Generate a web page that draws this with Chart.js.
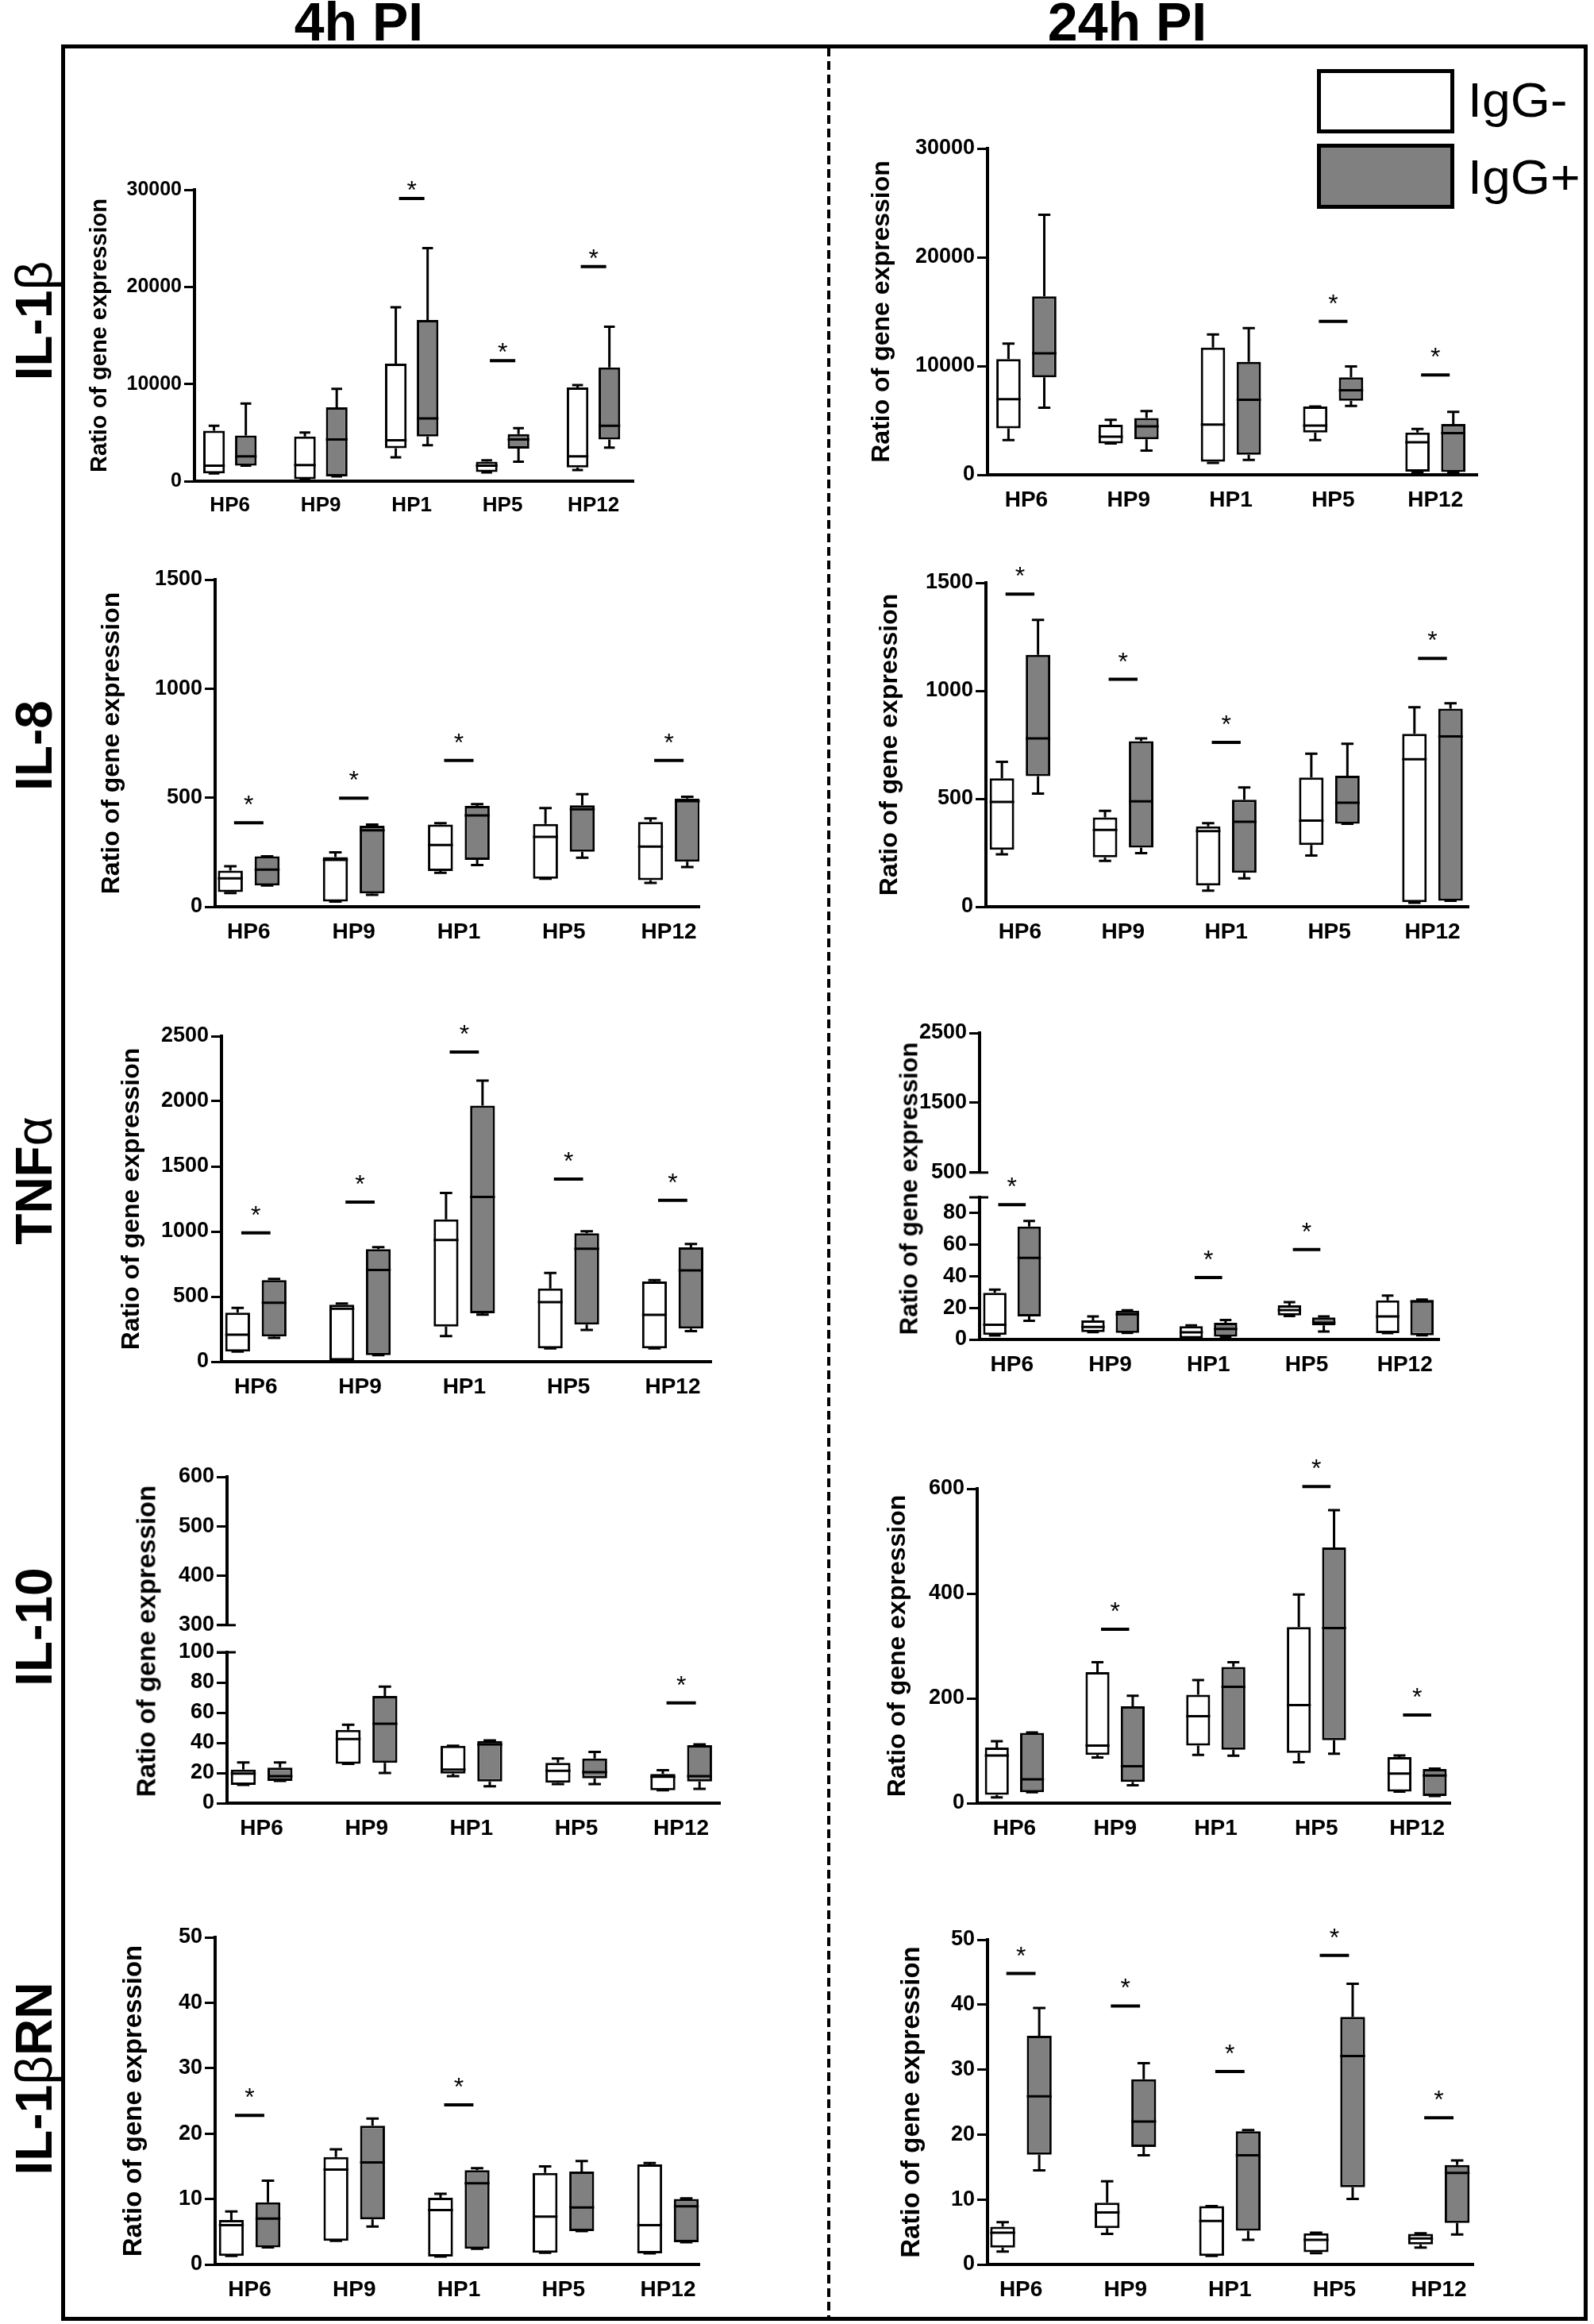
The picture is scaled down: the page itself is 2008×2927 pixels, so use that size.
<!DOCTYPE html>
<html>
<head>
<meta charset="utf-8">
<script src="https://cdn.jsdelivr.net/npm/chart.js@4.4.1/dist/chart.umd.min.js"></script>
<style>
  body { margin: 0; width: 2008px; height: 2927px; background: #fff; position: relative; overflow: hidden;
         font-family: "Liberation Sans", Arial, sans-serif; color: #000; }
  canvas { position: absolute; }
  .frame { position: absolute; left: 77px; top: 56px; width: 1923px; height: 2867px; border: 5px solid #000; box-sizing: border-box; }
  .divider { position: absolute; left: 1042px; top: 60px; width: 4px; height: 2860px;
             background: repeating-linear-gradient(to bottom, #000 0 11px, transparent 11px 17px); }
  .col { position: absolute; top: -7px; font-weight: bold; font-size: 68px; line-height: 1; transform: translateX(-50%); white-space: nowrap; }
  .row { position: absolute; font-weight: bold; font-size: 64px; line-height: 1; white-space: nowrap;
         transform: translate(-50%, -50%) rotate(-90deg); }
  .row span { font-weight: normal; }
  .ytitle { position: absolute; font-weight: bold; line-height: 1; white-space: nowrap;
            transform: translate(-50%, -50%) rotate(-90deg); }
  .legbox { position: absolute; left: 1659px; width: 173px; border: 5px solid #000; box-sizing: border-box; }
  .legtxt { position: absolute; left: 1849px; font-size: 62px; line-height: 1; transform: scaleX(1.04); transform-origin: left center; }
</style>
</head>
<body>
<div class="frame"></div>
<div class="divider"></div>
<div class="col" style="left:452px">4h PI</div>
<div class="col" style="left:1420px">24h PI</div>
<div class="row" style="left:43px;top:404px">IL-1<span>β</span></div>
<div class="row" style="left:43px;top:939px">IL-8</div>
<div class="row" style="left:43px;top:1487px">TNF<span>α</span></div>
<div class="row" style="left:43px;top:2049px">IL-10</div>
<div class="row" style="left:43px;top:2618px">IL-1<span>β</span>RN</div>
<div class="legbox" style="top:87px;height:81px;background:#fff"></div>
<div class="legbox" style="top:181px;height:82px;background:#808080"></div>
<div class="legtxt" style="top:95px">IgG-</div>
<div class="legtxt" style="top:192px">IgG+</div>

<script>
// categories
const strains = ['HP6', 'HP9', 'HP1', 'HP5', 'HP12'];
const yTitle = 'Ratio of gene expression';

// each box: [min, q1, median, q3, max]
const il1b4hNeg = [[800, 800, 1600, 5200, 5700], [200, 200, 1650, 4600, 5000], [2450, 3400, 4200, 12100, 17900], [900, 950, 1600, 2000, 2150], [1150, 1400, 2550, 9650, 9900]];
const il1b4hPos = [[1600, 1600, 2550, 4700, 8000], [500, 500, 4300, 7600, 9500], [3700, 4600, 6450, 16600, 24000], [2000, 3350, 4300, 4850, 5450], [3450, 4300, 5700, 11700, 15900]];
const il1b4hSig = [null, null, 29100, 12400, 22100];
const il1b4hAxis = [0, 30000, 10000];

const il1b24hNeg = [[3200, 4270, 6960, 10630, 12060], [2880, 2880, 3510, 4590, 5060], [1100, 1200, 4620, 11700, 12900], [3200, 3890, 4530, 6270, 6270], [250, 300, 3000, 3890, 4210]];
const il1b24hPos = [[6170, 8960, 11170, 16400, 23900], [2220, 3260, 4460, 5220, 5850], [1360, 1840, 6900, 10380, 13480], [6330, 6800, 7780, 8960, 9970], [250, 250, 3830, 4680, 5790]];
const il1b24hSig = [null, null, null, 14110, 9180];
const il1b24hAxis = [0, 30000, 10000];

const il8_4hNeg = [[63, 67, 130, 166, 186], [24, 24, 215, 228, 249], [156, 164, 283, 377, 383], [128, 128, 320, 380, 452], [109, 122, 276, 389, 405]];
const il8_4hPos = [[97, 97, 170, 231, 231], [55, 61, 350, 371, 377], [191, 215, 419, 462, 471], [225, 252, 447, 465, 516], [182, 207, 484, 496, 504]];
const il8_4hSig = [385, 498, 671, null, 671];
const il8_4hAxis = [0, 1500, 500];

const il8_24hNeg = [[243, 264, 485, 595, 671], [212, 229, 356, 414, 444], [74, 98, 350, 372, 387], [237, 286, 399, 598, 709], [18, 21, 683, 801, 924]];
const il8_24hPos = [[524, 605, 779, 1166, 1328], [248, 274, 488, 767, 779], [131, 157, 393, 495, 552], [384, 384, 482, 607, 755], [28, 28, 789, 917, 942]];
const il8_24hSig = [1448, 1053, 761, null, 1150];
const il8_24hAxis = [0, 1500, 500];

const tnf4hNeg = [[77, 77, 207, 376, 413], [10, 10, 407, 437, 447], [197, 270, 935, 1093, 1295], [102, 102, 457, 563, 681], [102, 102, 360, 616, 626]];
const tnf4hPos = [[183, 193, 453, 626, 636], [51, 51, 705, 864, 880], [362, 372, 1266, 1967, 2159], [244, 285, 868, 986, 1002], [234, 254, 701, 878, 904]];
const tnf4hSig = [990, 1226, 2378, 1402, 1240];
const tnf4hAxis = [0, 2500, 500];

const tnf24hNeg = [[2.5, 2.9, 9.3, 29.5, 31.6], [4.7, 4.7, 7.9, 12.1, 14.6], [0.8, 0.8, 4.5, 8.4, 8.9], [14.8, 15.2, 18.6, 21.6, 23.6], [4, 4, 14.6, 24.8, 27.8]];
const tnf24hPos = [[11.8, 14.6, 51.7, 71.5, 75], [4.2, 4.2, 16, 18.2, 18.5], [1.7, 1.7, 6.7, 10.6, 12.3], [5, 8.9, 10.6, 14, 14.6], [2.7, 2.7, 24, 25, 25.3]];
const tnf24hSig = [85.4, null, 39.2, 56.9, null];
const tnf24hAxisLow = [0, 90, 20];
const tnf24hAxisHigh = [500, 2500, 1000];

const il10_4hNeg = [[12.1, 12.1, 19.6, 22.3, 27], [26.1, 26.1, 42.5, 48.6, 52], [17.9, 19.6, 22.3, 38, 38], [12.6, 13.5, 21.4, 26.7, 29.6], [8.6, 8.6, 17.5, 19.3, 21.8]];
const il10_4hPos = [[14.7, 14.7, 17.9, 23.5, 27], [20, 26.7, 52.6, 71, 77.2], [11.2, 14.4, 39, 41.2, 41.6], [12.6, 16.5, 20.5, 29.6, 34], [9.5, 14.4, 17.9, 38.4, 39]];
const il10_4hSig = [null, null, null, null, 66.5];
const il10_4hAxisLow = [0, 100, 20];
const il10_4hAxisHigh = [300, 600, 100];

const il10_24hNeg = [[11, 16, 91, 106, 118], [87, 92, 110, 250, 269], [92, 110, 166, 207, 235], [78, 96, 187, 336, 398], [22, 22, 56.6, 88, 91]];
const il10_24hPos = [[21, 21, 45.5, 134, 135], [34, 40.4, 70.3, 185, 205], [90.5, 102, 222, 260, 269], [94.5, 120, 334, 488, 559], [13.6, 13.6, 52.6, 65, 66]];
const il10_24hSig = [null, 332, null, 604, 168];
const il10_24hAxis = [0, 600, 200];

const il1rn4hNeg = [[1.3, 1.3, 6.0, 6.8, 8.1], [3.6, 3.6, 14.5, 16.4, 17.6], [1.2, 1.2, 8.3, 10.2, 10.8], [1.8, 1.8, 7.3, 14, 15], [1.7, 1.7, 6.0, 15.3, 15.5]];
const il1rn4hPos = [[2.6, 2.6, 7.0, 9.5, 12.8], [5.8, 6.9, 15.6, 21.2, 22.3], [2.4, 2.4, 12.4, 14.4, 14.7], [5.1, 5.1, 8.7, 14.2, 15.8], [3.4, 3.4, 8.9, 10, 10.1]];
const il1rn4hSig = [22.8, null, 24.4, null, null];
const il1rn4hAxis = [0, 50, 10];

const il1rn24hNeg = [[2.0, 2.6, 4.9, 5.8, 6.5], [4.7, 5.6, 8.0, 9.5, 12.8], [1.3, 1.3, 6.7, 9.0, 9.0], [1.75, 1.9, 3.8, 4.8, 4.9], [2.6, 3.1, 4.0, 4.7, 4.8]];
const il1rn24hPos = [[14.5, 16.9, 25.9, 35.2, 39.5], [16.8, 18.1, 22, 28.5, 31], [3.8, 5.2, 16.8, 20.5, 20.7], [10.1, 11.9, 32.1, 38.1, 43.2], [4.6, 6.4, 14.1, 15.3, 16]];
const il1rn24hSig = [44.8, 39.8, 29.7, 47.6, 22.6];
const il1rn24hAxis = [0, 50, 10];

Chart.defaults.font.family = '"Liberation Sans", Arial, sans-serif';
Chart.defaults.color = '#000';
Chart.defaults.animation = false;

// whiskers, medians, significance bars and axis-break caps
const boxExtras = {
    id: 'boxExtras',
    afterDatasetsDraw(chart, args, opts) {
        const ctx = chart.ctx;
        const y = chart.scales.y;
        const area = chart.chartArea;
        ctx.save();
        ctx.strokeStyle = '#000';
        ctx.fillStyle = '#000';
        ctx.lineWidth = 3;
        chart.data.datasets.forEach((ds, d) => {
            chart.getDatasetMeta(d).data.forEach((bar, i) => {
                const [mn, q1, md, q3, mx] = ds.stats[i].map(v => y.getPixelForValue(v));
                const hw = bar.width / 2, cw = bar.width / 4;
                ctx.beginPath();
                ctx.moveTo(bar.x, q3); ctx.lineTo(bar.x, mx);
                ctx.moveTo(bar.x, q1); ctx.lineTo(bar.x, mn);
                ctx.moveTo(bar.x - cw, mx); ctx.lineTo(bar.x + cw, mx);
                ctx.moveTo(bar.x - cw, mn); ctx.lineTo(bar.x + cw, mn);
                ctx.moveTo(bar.x - hw, md); ctx.lineTo(bar.x + hw, md);
                ctx.stroke();
            });
        });
        const sig = chart.data.datasets.length ? chart.data.datasets[0].sig : null;
        if (sig) {
            const a = chart.getDatasetMeta(0).data, b = chart.getDatasetMeta(1).data;
            ctx.lineWidth = 4;
            ctx.font = '32px "Liberation Sans"';
            ctx.textAlign = 'center';
            ctx.textBaseline = 'alphabetic';
            sig.forEach((v, i) => {
                if (v == null) return;
                const gap = b[i].x - a[i].x, mid = (a[i].x + b[i].x) / 2;
                const py = y.getPixelForValue(v);
                ctx.beginPath();
                ctx.moveTo(mid - 0.4 * gap, py); ctx.lineTo(mid + 0.4 * gap, py);
                ctx.stroke();
                ctx.fillText('*', mid, py - opts.starLift);
            });
        }
        if (opts.breakAt) {
            const py = opts.breakAt === 'top' ? area.top : area.bottom;
            ctx.lineWidth = 3;
            ctx.beginPath();
            ctx.moveTo(area.left - 13, py); ctx.lineTo(area.left + 11, py);
            ctx.stroke();
        }
        ctx.restore();
    }
};

function addCanvas(left, top, w, h) {
    const c = document.createElement('canvas');
    c.width = w; c.height = h;
    c.style.left = left + 'px'; c.style.top = top + 'px';
    c.style.width = w + 'px'; c.style.height = h + 'px';
    document.body.appendChild(c);
    return c;
}

function addTitle(x, y, size) {
    const t = document.createElement('div');
    t.className = 'ytitle';
    t.textContent = yTitle;
    t.style.left = x + 'px'; t.style.top = y + 'px'; t.style.fontSize = size + 'px';
    document.body.appendChild(t);
}

function yScale(axis, yw, tickSize, title, titleSize) {
    const [min, max, step] = axis;
    return {
        min: min, max: max,
        ticks: {
            stepSize: step, padding: 3, color: '#000', autoSkip: false, includeBounds: false,
            font: { size: tickSize, weight: 'bold' },
            callback: v => String(v)
        },
        grid: { display: true, drawOnChartArea: false, drawTicks: true, tickLength: 13, lineWidth: 3, color: '#000' },
        border: { display: true, width: 4, color: '#000' },
        title: { display: title, text: yTitle, color: '#000', padding: { top: 4, bottom: 4 },
                 font: { size: titleSize, weight: 'bold' } },
        afterFit: s => { s.width = yw; }
    };
}

function xScale(xr, catSize, show) {
    return {
        type: 'linear', min: xr[0], max: xr[1], offset: false, display: show,
        ticks: {
            stepSize: 1, includeBounds: false, autoSkip: false, maxRotation: 0, padding: 7, color: '#000',
            font: { size: catSize, weight: 'bold' },
            callback: v => (Number.isInteger(v) && strains[v]) ? strains[v] : ''
        },
        grid: { display: false },
        border: { display: true, width: 4, color: '#000' },
        afterFit: s => { s.height = show ? 60 : 0; }
    };
}

function boxDatasets(neg, pos, sig) {
    const common = { borderColor: '#000', borderWidth: 3, borderSkipped: false,
                     categoryPercentage: 0.7, barPercentage: 0.68 };
    return [
        Object.assign({ label: 'IgG-', data: neg.map((b, i) => ({ x: i, y: [b[1], b[3]] })),
                        stats: neg, sig: sig, backgroundColor: '#ffffff' }, common),
        Object.assign({ label: 'IgG+', data: pos.map((b, i) => ({ x: i, y: [b[1], b[3]] })),
                        stats: pos, backgroundColor: '#808080' }, common)
    ];
}

const PAD_TOP = 45, PAD_RIGHT = 20, X_H = 60;

// regular panels: ax/end = axis x extent, top/zero = y pixel of max and 0
function panel(p) {
    const titleLine = p.title * 1.2;
    const cl = Math.round(p.titleX - 4 - titleLine / 2);
    const top = Math.round(p.top), zero = Math.round(p.zero);
    const c = addCanvas(cl, top - PAD_TOP, Math.round(p.end) - cl + PAD_RIGHT, zero - top + PAD_TOP + X_H);
    new Chart(c, {
        type: 'bar',
        data: { datasets: boxDatasets(p.neg, p.pos, p.sig) },
        options: {
            responsive: false,
            layout: { padding: { top: PAD_TOP, right: PAD_RIGHT, bottom: 0, left: 0 } },
            scales: { x: xScale(p.xr, p.cat, true), y: yScale(p.axis, Math.round(p.ax) - cl, p.tick, true, p.title) },
            plugins: { legend: { display: false }, tooltip: { enabled: false },
                       boxExtras: { starLift: p.star } }
        },
        plugins: [boxExtras]
    });
}

// broken-axis panels: an upper axis-only chart and a lower chart with the boxes
function brokenPanel(p) {
    const cl = Math.round(p.ax) - 110;
    const w = Math.round(p.end) - cl + PAD_RIGHT;
    const hTop = Math.round(p.hiTop), hBot = Math.round(p.hiBot);
    const cu = addCanvas(cl, hTop - PAD_TOP, w, hBot - hTop + PAD_TOP + 16);
    new Chart(cu, {
        type: 'bar',
        data: { datasets: [] },
        options: {
            responsive: false,
            layout: { padding: { top: PAD_TOP, right: PAD_RIGHT, bottom: 16, left: 0 } },
            scales: { x: xScale(p.xr, p.cat, false), y: yScale(p.high, 110, p.tick, false, p.title) },
            plugins: { legend: { display: false }, tooltip: { enabled: false },
                       boxExtras: { starLift: p.star, breakAt: 'bottom' } }
        },
        plugins: [boxExtras]
    });
    const top = Math.round(p.top), zero = Math.round(p.zero);
    const cw = addCanvas(cl, top - PAD_TOP, w, zero - top + PAD_TOP + X_H);
    new Chart(cw, {
        type: 'bar',
        data: { datasets: boxDatasets(p.neg, p.pos, p.sig) },
        options: {
            responsive: false,
            layout: { padding: { top: PAD_TOP, right: PAD_RIGHT, bottom: 0, left: 0 } },
            scales: { x: xScale(p.xr, p.cat, true), y: yScale(p.low, 110, p.tick, false, p.title) },
            plugins: { legend: { display: false }, tooltip: { enabled: false },
                       boxExtras: { starLift: p.star, breakAt: 'top' } }
        },
        plugins: [boxExtras]
    });
    addTitle(p.titleX, p.titleY, p.title);
}

panel({ neg: il1b4hNeg, pos: il1b4hPos, sig: il1b4hSig, axis: il1b4hAxis,
        ax: 245, end: 798, top: 238.5, zero: 606, titleX: 126, xr: [-0.39, 4.44], tick: 25, cat: 26, title: 29, star: 0 });
panel({ neg: il1b24hNeg, pos: il1b24hPos, sig: il1b24hSig, axis: il1b24hAxis,
        ax: 1244, end: 1861, top: 186.5, zero: 597.5, titleX: 1111, xr: [-0.38, 4.41], tick: 27, cat: 28, title: 32, star: 12 });
panel({ neg: il8_4hNeg, pos: il8_4hPos, sig: il8_4hSig, axis: il8_4hAxis,
        ax: 271, end: 881, top: 730, zero: 1142, titleX: 141, xr: [-0.32, 4.29], tick: 27, cat: 28, title: 32, star: 12 });
panel({ neg: il8_24hNeg, pos: il8_24hPos, sig: il8_24hSig, axis: il8_24hAxis,
        ax: 1242, end: 1850, top: 734, zero: 1142, titleX: 1121, xr: [-0.33, 4.35], tick: 27, cat: 28, title: 32, star: 12 });
panel({ neg: tnf4hNeg, pos: tnf4hPos, sig: tnf4hSig, axis: tnf4hAxis,
        ax: 279, end: 896, top: 1305, zero: 1715, titleX: 166, xr: [-0.33, 4.37], tick: 27, cat: 28, title: 32, star: 12 });
brokenPanel({ neg: tnf24hNeg, pos: tnf24hPos, sig: tnf24hSig, low: tnf24hAxisLow, high: tnf24hAxisHigh,
        ax: 1234, end: 1813, hiTop: 1300.7, hiBot: 1480, top: 1508, zero: 1687, titleX: 1145, titleY: 1497,
        xr: [-0.33, 4.35], tick: 27, cat: 28, title: 31, star: 12 });
brokenPanel({ neg: il10_4hNeg, pos: il10_4hPos, sig: il10_4hSig, low: il10_4hAxisLow, high: il10_4hAxisHigh,
        ax: 286, end: 907, hiTop: 1860, hiBot: 2050, top: 2080.7, zero: 2270.7, titleX: 184, titleY: 2067,
        xr: [-0.33, 4.37], tick: 27, cat: 28, title: 33, star: 12 });
panel({ neg: il10_24hNeg, pos: il10_24hPos, sig: il10_24hSig, axis: il10_24hAxis,
        ax: 1230.5, end: 1827, top: 1875, zero: 2270.7, titleX: 1131, xr: [-0.37, 4.33], tick: 27, cat: 28, title: 32, star: 12 });
panel({ neg: il1rn4hNeg, pos: il1rn4hPos, sig: il1rn4hSig, axis: il1rn4hAxis,
        ax: 271, end: 881, top: 2440, zero: 2851.7, titleX: 169, xr: [-0.33, 4.30], tick: 27, cat: 28, title: 33, star: 12 });
panel({ neg: il1rn24hNeg, pos: il1rn24hPos, sig: il1rn24hSig, axis: il1rn24hAxis,
        ax: 1244, end: 1855.5, top: 2442.7, zero: 2851.7, titleX: 1149, xr: [-0.32, 4.33], tick: 27, cat: 28, title: 33, star: 12 });
</script>
</body>
</html>
